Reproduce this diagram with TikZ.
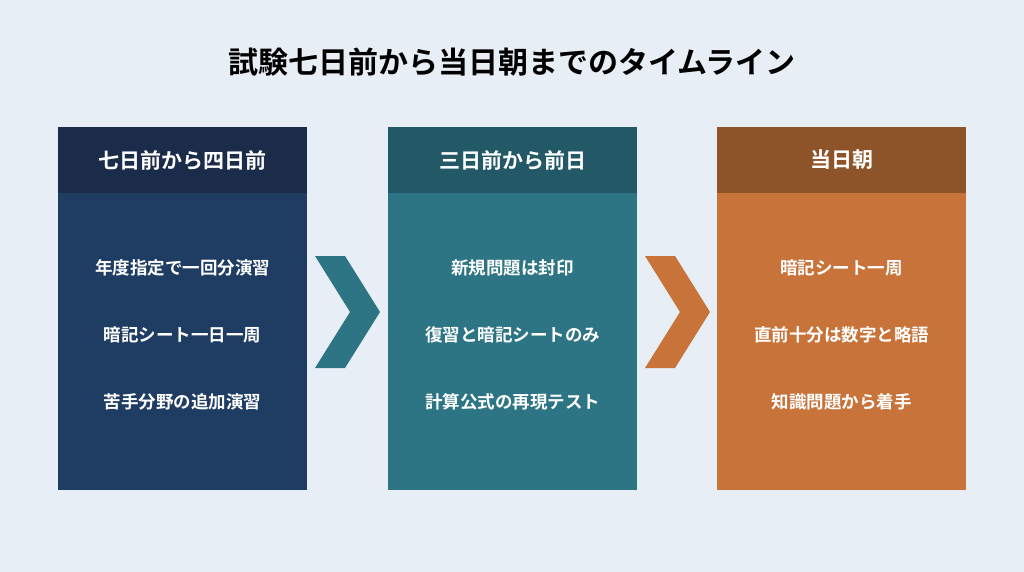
\documentclass[tikz,border=0pt]{standalone}
\usepackage{fontspec}
\setmainfont{Noto Sans CJK JP}[BoldFont={* Bold}]
\definecolor{bg}{HTML}{E8EEF6}
\definecolor{h1}{HTML}{1A2C4A}\definecolor{b1}{HTML}{1F3C63}
\definecolor{h2}{HTML}{235867}\definecolor{b2}{HTML}{2D7584}
\definecolor{h3}{HTML}{8D5329}\definecolor{b3}{HTML}{C7733A}
\begin{document}
\begin{tikzpicture}[x=1pt,y=-1pt,
 hd/.style={font=\bfseries\fontsize{21}{24}\selectfont,text=white},
 it/.style={font=\bfseries\fontsize{17.5}{20}\selectfont,text=white},
 chev/.style={draw=none}]
\fill[bg] (0,0) rectangle (1024,572);
\useasboundingbox (0,0) rectangle (1024,572);
\node[font=\bfseries\fontsize{30}{34}\selectfont,text=black] (t) at (512,62) {試験七日前から当日朝までのタイムライン};
% box 1
\fill[b1] (58,127) rectangle (307,490);
\fill[h1] (58,127) rectangle (307,193);
\node[hd] (a) at (182.5,160) {七日前から四日前};
\node[it] (a1) at (182.5,268) {年度指定で一回分演習};
\node[it] (a2) at (182.5,335) {暗記シート一日一周};
\node[it] (a3) at (182.5,402) {苦手分野の追加演習};
% box 2
\fill[b2] (388,127) rectangle (637,490);
\fill[h2] (388,127) rectangle (637,193);
\node[hd] (b) at (512.5,160) {三日前から前日};
\node[it] (b1) at (512.5,268) {新規問題は封印};
\node[it] (b2) at (512.5,335) {復習と暗記シートのみ};
\node[it] (b3) at (512.5,402) {計算公式の再現テスト};
% box 3
\fill[b3] (717,127) rectangle (966,490);
\fill[h3] (717,127) rectangle (966,193);
\node[hd] (c) at (841.5,160) {当日朝};
\node[it] (c1) at (841.5,268) {暗記シート一周};
\node[it] (c2) at (841.5,335) {直前十分は数字と略語};
\node[it] (c3) at (841.5,402) {知識問題から着手};
% chevrons
\fill[b2] (315,256) -- (345,256) -- (380,312) -- (345,368) -- (315,368) -- (350,312) -- cycle;
\fill[b3] (645,256) -- (675,256) -- (710,312) -- (675,368) -- (645,368) -- (680,312) -- cycle;
\end{tikzpicture}
\end{document}
